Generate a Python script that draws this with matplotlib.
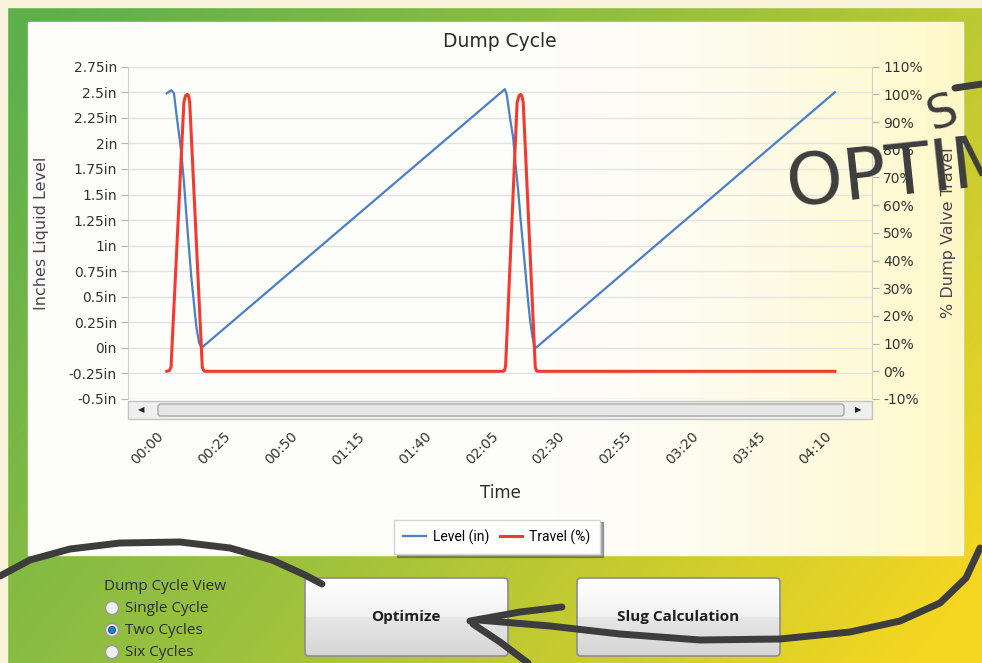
import numpy as np
import matplotlib
matplotlib.use('Agg')
import matplotlib.pyplot as plt
from matplotlib.patches import Rectangle, FancyBboxPatch, Circle

# values, time in seconds
level_t = [0, 1.7, 2.7, 3.6, 4.6, 5.5, 6.5, 7.4, 8.3, 9.2, 10.2, 11.1, 12.1, 13.0,
           126.5, 127.2, 127.7, 128.6, 129.6, 130.5, 131.5, 132.4, 133.4, 134.3,
           135.2, 136.0, 136.9, 137.5, 138.1, 250]
level_in = [2.49, 2.52, 2.49, 2.29, 2.09, 1.90, 1.60, 1.28, 0.98, 0.69, 0.43, 0.20, 0.05, 0.0,
            2.53, 2.48, 2.39, 2.22, 2.06, 1.80, 1.54, 1.26, 0.98, 0.72,
            0.46, 0.26, 0.10, 0.03, 0.0, 2.50]

travel_t = [0, 1.0, 1.6, 6.4, 7.0, 7.7, 8.2, 8.6, 13.3, 13.8, 14.2,
            125.9, 126.4, 126.8, 131.1, 131.8, 132.4, 132.9, 133.4, 137.9, 138.3, 138.6, 250]
travel_pct = [0, 0.3, 1.5, 97, 99.5, 100, 99.5, 97, 1.5, 0.3, 0,
              0, 0.3, 2, 97, 99.5, 100, 99.5, 97, 1.5, 0.3, 0, 0]

time_ticks = [0, 25, 50, 75, 100, 125, 150, 175, 200, 225, 250]
time_labels = ['00:00', '00:25', '00:50', '01:15', '01:40', '02:05',
               '02:30', '02:55', '03:20', '03:45', '04:10']
level_ticks = [-0.5, -0.25, 0, 0.25, 0.5, 0.75, 1, 1.25, 1.5, 1.75, 2, 2.25, 2.5, 2.75]
level_labels = ['-0.5in', '-0.25in', '0in', '0.25in', '0.5in', '0.75in', '1in',
                '1.25in', '1.5in', '1.75in', '2in', '2.25in', '2.5in', '2.75in']
travel_ticks = [-10, 0, 10, 20, 30, 40, 50, 60, 70, 80, 90, 100, 110]
travel_labels = ['-10%', '0%', '10%', '20%', '30%', '40%', '50%', '60%',
                 '70%', '80%', '90%', '100%', '110%']

W, H = 982, 663
BLUE = '#4a7fc9'
RED = '#f23a30'
INK = '#3d3d3d'

fig = plt.figure(figsize=(W / 100, H / 100), dpi=100)

# ---- background: green -> yellow gradient and the white chart panel
bg = fig.add_axes([0, 0, 1, 1])
bg.set_xlim(0, W)
bg.set_ylim(H, 0)
bg.axis('off')

yy, xx = np.mgrid[0:H, 0:W]
s = np.clip(0.72 * xx / W + 0.38 * yy / H - 0.05, 0, 1)
stops = [0, 0.5, 1]
cols = np.array([[0.37, 0.69, 0.30], [0.62, 0.76, 0.24], [0.96, 0.84, 0.13]])
img = np.dstack([np.interp(s, stops, cols[:, c]) for c in range(3)])
bg.imshow(img, extent=(0, W, H, 0), aspect='auto', zorder=0)
bg.add_patch(Rectangle((0, 0), W, 7, color='#faf3dc', zorder=1))
bg.add_patch(Rectangle((0, 0), 7, H, color='#faf3dc', zorder=1))

bg.add_patch(Rectangle((28, 22), 935, 533, color='#fdfdfa', zorder=2))
# yellowish glow on the right of the panel
gx = np.linspace(0, 1, 200)
glow = np.zeros((1, 200, 4))
glow[0, :, 0] = 1.0
glow[0, :, 1] = 0.97
glow[0, :, 2] = 0.72
glow[0, :, 3] = np.clip((gx - 0.55) / 0.45, 0, 1) ** 1.5 * 0.75
bg.imshow(glow, extent=(28, 963, 555, 22), aspect='auto', zorder=3)

# scrollbar under the plot
bg.add_patch(Rectangle((128, 401), 744, 18, facecolor='#efefef', edgecolor='#c4c4c4', lw=1, zorder=4))
bg.add_patch(FancyBboxPatch((158, 404), 686, 12, boxstyle='round,pad=0,rounding_size=3',
                            facecolor='#e6e6e6', edgecolor='#a9a9a9', lw=1, zorder=5))
bg.text(141, 410, '\u25c0', fontsize=6, ha='center', va='center', color='#222222', zorder=6)
bg.text(858, 410, '\u25b6', fontsize=6, ha='center', va='center', color='#222222', zorder=6)

# radio buttons
bg.text(104, 586, 'Dump Cycle View', fontsize=11, family='Open Sans', color='#2b2b3a',
        va='center', zorder=6)
for i, name in enumerate(['Single Cycle', 'Two Cycles', 'Six Cycles']):
    y = 608 + i * 22
    bg.add_patch(Circle((112, y), 6.5, facecolor='#eeeeee', edgecolor='#9a9a9a', lw=1, zorder=6))
    if name == 'Two Cycles':
        bg.add_patch(Circle((112, y), 3.5, facecolor='#2a7fc0', edgecolor='#155a90', lw=0.8, zorder=7))
    bg.text(125, y, name, fontsize=11, family='Open Sans', color='#2b2b3a', va='center', zorder=6)

# buttons
for x0, label in [(305, 'Optimize'), (577, 'Slug Calculation')]:
    grad = np.concatenate([np.linspace(1.0, 0.95, 25), np.linspace(0.90, 0.84, 25)])
    grad = grad[:, None] * np.ones((50, 1))
    bimg = np.dstack([grad, grad, grad])
    box = FancyBboxPatch((x0, 578), 203, 78, boxstyle='round,pad=0,rounding_size=4',
                         facecolor='none', edgecolor='#8c8c8c', lw=1.2, zorder=7)
    im = bg.imshow(bimg, extent=(x0, x0 + 203, 656, 578), aspect='auto', zorder=6)
    bg.add_patch(box)
    im.set_clip_path(box)
    bg.text(x0 + 101, 617, label, fontsize=11, fontweight='bold', family='Open Sans',
            color='#1e1e1e', ha='center', va='center', zorder=8)

# ---- the chart
ax = fig.add_axes([128 / W, 1 - 399 / H, 744 / W, 332.3 / H], zorder=5)
ax.patch.set_alpha(0)
ax2 = ax.twinx()

ax.plot(level_t, level_in, color=BLUE, lw=1.6, label='Level (in)', zorder=3,
        solid_joinstyle='round')
ax2.plot(travel_t, travel_pct, color=RED, lw=2.2, label='Travel (%)', zorder=3,
         solid_joinstyle='round')

ax.set_xlim(-14.5, 263.9)
ax.set_ylim(-0.5, 2.75)
ax2.set_ylim(-10, 110)

ax.set_yticks(level_ticks)
ax.set_yticklabels(level_labels)
ax2.set_yticks(travel_ticks)
ax2.set_yticklabels(travel_labels)
ax.set_xticks(time_ticks)
ax.set_xticklabels(time_labels, rotation=45, ha='right')

ax.grid(axis='y', color='#e3e3e3', lw=1)
ax.set_axisbelow(True)
for a in (ax, ax2):
    for side in ('top', 'bottom'):
        a.spines[side].set_visible(False)
    a.spines['left'].set_color('#cfcfcf')
    a.spines['right'].set_color('#cfcfcf')
    a.tick_params(axis='y', length=5, color='#b5b5b5', labelsize=10, labelcolor='#333333', pad=3)
ax.spines['right'].set_visible(False)
ax2.spines['left'].set_visible(False)
ax.tick_params(axis='x', length=0, pad=22, labelsize=10, labelcolor='#333333')

ax.set_ylabel('Inches Liquid Level', fontsize=11.5, color='#4d4252', labelpad=14)
ax2.set_ylabel('% Dump Valve Travel', fontsize=11.5, color='#4d4252', labelpad=13)
ax.set_xlabel('Time', fontsize=12, color='#2b2b2b', labelpad=12)
ax.set_title('Dump Cycle', fontsize=13.5, color='#2b2b2b', pad=14)

h1, l1 = ax.get_legend_handles_labels()
h2, l2 = ax2.get_legend_handles_labels()
leg = fig.legend(h1 + h2, l1 + l2, ncol=2, loc='center', bbox_to_anchor=(497 / W, 1 - 537 / H),
                 prop={'family': 'Roboto', 'size': 10}, frameon=True, fancybox=False,
                 shadow=True, handlelength=1.6, handletextpad=0.5,
                 columnspacing=0.8, borderpad=0.7)
leg.get_frame().set_edgecolor('#d4d4d4')
leg.set_zorder(9)

# ---- hand drawn marker strokes on top
ov = fig.add_axes([0, 0, 1, 1], zorder=20)
ov.set_xlim(0, W)
ov.set_ylim(H, 0)
ov.axis('off')
ov.patch.set_alpha(0)
strokes = [
    [(0, 576), (30, 560), (70, 549), (120, 543), (180, 542), (230, 548), (272, 560), (305, 575), (322, 584)],
    [(980, 548), (966, 578), (940, 603), (900, 621), (850, 632), (780, 639), (700, 640),
     (620, 634), (550, 626), (478, 620)],
    [(562, 607), (520, 612), (470, 621)],
    [(473, 624), (500, 642), (528, 663)],
    [(955, 88), (982, 84)],
]
for pts in strokes:
    px, py = zip(*pts)
    ov.plot(px, py, color=INK, lw=5, solid_capstyle='round', solid_joinstyle='round')
ov.text(783, 206, 'OPTIM', fontsize=52, color=INK, rotation=6, ha='left', va='baseline',
        family=['Liberation Sans Narrow', 'DejaVu Sans'])
ov.text(922, 130, 'S', fontsize=34, color=INK, rotation=18, ha='left', va='baseline')

fig.savefig('out.png', dpi=100)
